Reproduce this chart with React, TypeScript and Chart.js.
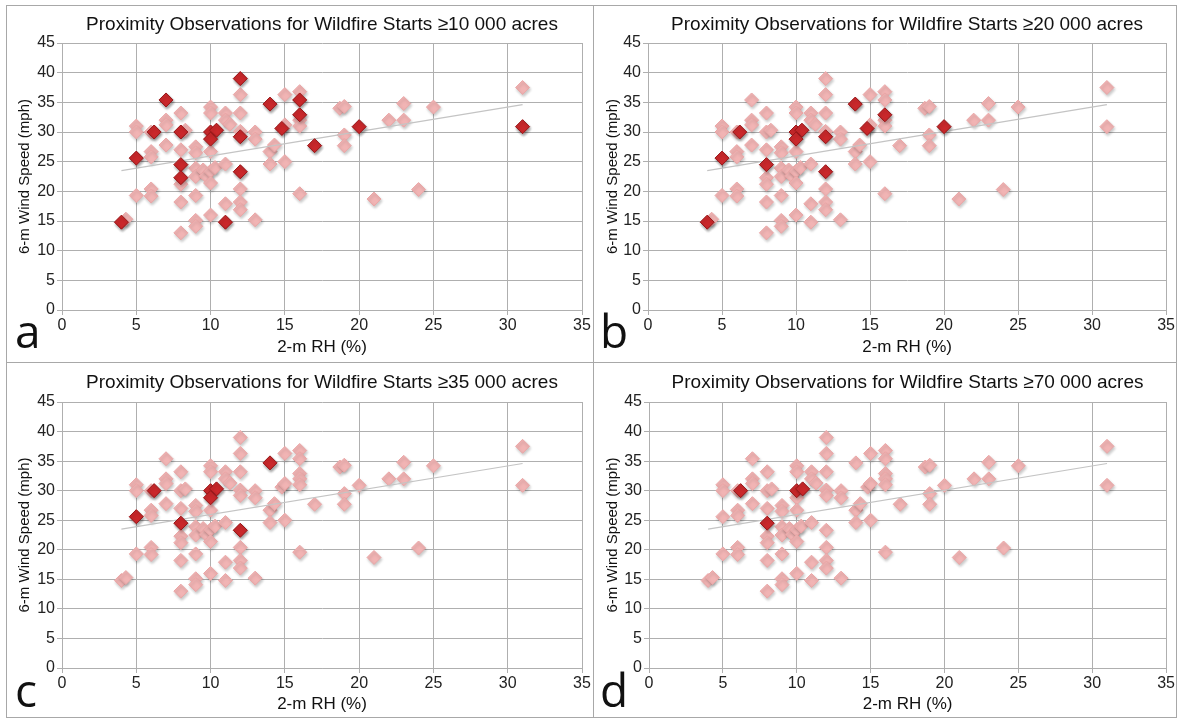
import React, { useEffect, useRef } from "react";
import { Chart, registerables } from "chart.js";

Chart.register(...registerables);

// All proximity observations: 2-m RH (%) and 6-m wind speed (mph)
const ALL_RH = [
  4, 4.3, 5, 5, 5, 5, 6, 6.2, 6, 6, 6, 6, 7, 7, 7, 7, 8, 8, 8.3, 8, 8, 8, 8, 8, 8,
  9, 9, 9, 9, 9, 9, 9, 9.5, 9.7, 10, 10, 10, 10.4, 10, 10, 10, 10.3, 10, 10,
  11, 11, 11.3, 11, 11, 11, 12, 12, 12, 12, 12, 12, 12, 12, 12, 13, 13, 13,
  14, 14, 14.3, 14, 15, 14.8, 15, 15, 16, 16, 16, 16, 16, 16, 17, 18.7, 19, 19, 19,
  20, 21, 22, 23, 23, 24, 25, 31, 31,
];
const ALL_WIND = [
  14.8, 15.3, 31, 30, 25.6, 19.3, 30, 30, 26.7, 25.8, 20.4, 19.2, 35.4, 32, 31.2, 27.8, 33.2, 30, 30.3, 27, 24.5, 22.3, 21.2, 18.2, 13,
  27.5, 26.5, 23.9, 22.5, 19.3, 15.1, 14.1, 23.6, 22.6, 34.2, 33.2, 30, 30.3, 28.8, 26.7, 23.4, 24, 21.4, 16,
  33.2, 32, 31.3, 24.6, 17.9, 14.8, 39, 36.3, 33.2, 30.1, 29.2, 23.3, 20.4, 18.2, 16.9, 30, 28.8, 15.2,
  34.7, 26.7, 27.8, 24.6, 36.3, 30.6, 31.2, 25, 36.8, 35.4, 32.9, 32, 31, 19.6, 27.7, 34, 34.3, 29.5, 27.7,
  30.9, 18.7, 32, 34.8, 32, 20.3, 34.2, 37.5, 30.9,
];

// Highlighted starts per size threshold
const HI_A_RH = [4, 5, 6.2, 7, 8, 8, 8, 10, 10.4, 10, 11, 12, 12, 12, 14, 14.8, 16, 16, 17, 20, 31];
const HI_A_WIND = [14.8, 25.6, 30, 35.4, 30, 24.5, 22.3, 30, 30.3, 28.8, 14.8, 39, 29.2, 23.3, 34.7, 30.6, 35.4, 32.9, 27.7, 30.9, 30.9];
const HI_B_RH = [4, 5, 6.2, 8, 10, 10.4, 10, 12, 12, 14, 14.8, 16, 20];
const HI_B_WIND = [14.8, 25.6, 30, 24.5, 30, 30.3, 28.8, 29.2, 23.3, 34.7, 30.6, 32.9, 30.9];
const HI_C_RH = [5, 6.2, 8, 10, 10.4, 10, 12, 14];
const HI_C_WIND = [25.6, 30, 24.5, 30, 30.3, 28.8, 23.3, 34.7];
const HI_D_RH = [6.2, 8, 10, 10.4];
const HI_D_WIND = [30, 24.5, 30, 30.3];

// Linear trend line endpoints
const TREND_RH = [4, 31];
const TREND_WIND = [23.5, 34.6];

const TITLES = [
  "Proximity Observations for Wildfire Starts \u226510 000 acres",
  "Proximity Observations for Wildfire Starts \u226520 000 acres",
  "Proximity Observations for Wildfire Starts \u226535 000 acres",
  "Proximity Observations for Wildfire Starts \u226570 000 acres",
];
const LETTERS = ["a", "b", "c", "d"];
const X_TITLE = "2-m RH (%)";
const Y_TITLE = "6-m Wind Speed (mph)";

const FONT = "'Liberation Sans', Arial, sans-serif";

type PanelCfg = {
  left: number; top: number; width: number; height: number;
  padLeft: number; padRight: number; yW: number; xH: number;
  tTop: number; tBot: number; xtBot: number;
  letterX: number; letterY: number;
  hiRH: number[]; hiWind: number[];
  title: string; letter: string;
};

const toPts = (xs: number[], ys: number[]) => xs.map((x, i) => ({ x, y: ys[i] }));

const shadowPlugin = {
  id: "markShadow",
  beforeDatasetDraw(chart: any, args: any) {
    const ds = chart.data.datasets[args.index];
    if (ds.type === "line") return;
    const ctx = chart.ctx;
    ctx.save();
    ctx.shadowColor = "rgba(0,0,0,0.22)";
    ctx.shadowBlur = 3;
    ctx.shadowOffsetX = 1;
    ctx.shadowOffsetY = 2;
  },
  afterDatasetDraw(chart: any, args: any) {
    const ds = chart.data.datasets[args.index];
    if (ds.type === "line") return;
    chart.ctx.restore();
  },
};

function Panel({ cfg }: { cfg: PanelCfg }) {
  const ref = useRef<HTMLCanvasElement | null>(null);
  useEffect(() => {
    if (!ref.current) return;
    const letterPlugin = {
      id: "panelLetter",
      afterDraw(chart: any) {
        const ctx = chart.ctx;
        ctx.save();
        ctx.font = "46px 'Open Sans', sans-serif";
        ctx.fillStyle = "#111";
        ctx.textBaseline = "alphabetic";
        ctx.textAlign = "left";
        ctx.fillText(cfg.letter, cfg.letterX, cfg.letterY);
        ctx.restore();
      },
    };
    const gridColor = "#afafaf";
    const chart = new Chart(ref.current, {
      type: "scatter",
      data: {
        datasets: [
          {
            type: "scatter",
            data: toPts(ALL_RH, ALL_WIND),
            pointStyle: "rectRot",
            pointRadius: 7,
            backgroundColor: "#f1b4b4",
            borderColor: "#eaa6a6",
            borderWidth: 1,
            order: 3,
          },
          {
            type: "line",
            data: toPts(TREND_RH, TREND_WIND),
            borderColor: "#c4c4c4",
            borderWidth: 1.2,
            pointRadius: 0,
            showLine: true,
            fill: false,
            order: 2,
          },
          {
            type: "scatter",
            data: toPts(cfg.hiRH, cfg.hiWind),
            pointStyle: "rectRot",
            pointRadius: 7,
            backgroundColor: "#c9282b",
            borderColor: "#961719",
            borderWidth: 1,
            order: 1,
          },
        ] as any,
      },
      options: {
        animation: false,
        responsive: false,
        maintainAspectRatio: false,
        layout: { padding: { left: cfg.padLeft, right: cfg.padRight, top: 0, bottom: 0 } },
        plugins: {
          legend: { display: false },
          tooltip: { enabled: false },
          title: {
            display: true,
            text: cfg.title,
            fullSize: false,
            color: "#111",
            font: { family: FONT, size: 19, weight: "normal" },
            padding: { top: cfg.tTop, bottom: cfg.tBot },
          },
        },
        scales: {
          x: {
            type: "linear",
            min: 0,
            max: 35,
            ticks: { stepSize: 5, color: "#222", padding: 1, font: { family: FONT, size: 16 } },
            grid: { color: gridColor, lineWidth: 1, tickLength: 5, drawTicks: true },
            border: { color: gridColor },
            title: {
              display: true,
              text: X_TITLE,
              color: "#111",
              font: { family: FONT, size: 17 },
              padding: { top: 0, bottom: cfg.xtBot },
            },
            afterFit(scale: any) { scale.height = cfg.xH; },
          },
          y: {
            type: "linear",
            min: 0,
            max: 45,
            ticks: { stepSize: 5, color: "#222", padding: 2, font: { family: FONT, size: 16 } },
            grid: { color: gridColor, lineWidth: 1, tickLength: 5 },
            border: { color: gridColor },
            title: {
              display: true,
              text: Y_TITLE,
              color: "#111",
              font: { family: FONT, size: 15 },
              padding: { top: 0, bottom: 0 },
            },
            afterFit(scale: any) { scale.width = cfg.yW; },
          },
        },
      } as any,
      plugins: [shadowPlugin, letterPlugin],
    });
    return () => chart.destroy();
  }, [cfg]);
  return (
    <canvas
      ref={ref}
      width={cfg.width}
      height={cfg.height}
      style={{ position: "absolute", left: cfg.left, top: cfg.top, width: cfg.width, height: cfg.height }}
    />
  );
}

const PANELS: PanelCfg[] = [
  { left: 7, top: 6, width: 586, height: 356, padLeft: 9, padRight: 11, yW: 46, xH: 52, tTop: 7.6, tBot: 6.6, xtBot: 4.8, letterX: 8, letterY: 342, hiRH: HI_A_RH, hiWind: HI_A_WIND, title: TITLES[0], letter: LETTERS[0] },
  { left: 594, top: 6, width: 582, height: 356, padLeft: 10, padRight: 7, yW: 44, xH: 52, tTop: 7.6, tBot: 6.6, xtBot: 4.8, letterX: 6, letterY: 342, hiRH: HI_B_RH, hiWind: HI_B_WIND, title: TITLES[1], letter: LETTERS[1] },
  { left: 7, top: 363, width: 586, height: 354, padLeft: 9, padRight: 11, yW: 46, xH: 49, tTop: 8.6, tBot: 7.6, xtBot: 2.8, letterX: 8, letterY: 344, hiRH: HI_C_RH, hiWind: HI_C_WIND, title: TITLES[2], letter: LETTERS[2] },
  { left: 594, top: 363, width: 582, height: 354, padLeft: 10, padRight: 7, yW: 45, xH: 49, tTop: 8.6, tBot: 7.6, xtBot: 2.8, letterX: 6, letterY: 344, hiRH: HI_D_RH, hiWind: HI_D_WIND, title: TITLES[3], letter: LETTERS[3] },
];

export default function App() {
  const line = "#a8a8a8";
  return (
    <div style={{ position: "fixed", left: 0, top: 0, width: 1180, height: 719, background: "#fff", overflow: "hidden" }}>
      {PANELS.map((p, i) => (
        <Panel key={i} cfg={p} />
      ))}
      <div style={{ position: "absolute", left: 6, top: 5, width: 1171, height: 1, background: line }} />
      <div style={{ position: "absolute", left: 6, top: 362, width: 1171, height: 1, background: line }} />
      <div style={{ position: "absolute", left: 6, top: 717, width: 1171, height: 1, background: line }} />
      <div style={{ position: "absolute", left: 6, top: 5, width: 1, height: 713, background: line }} />
      <div style={{ position: "absolute", left: 593, top: 5, width: 1, height: 713, background: line }} />
      <div style={{ position: "absolute", left: 1176, top: 5, width: 1, height: 713, background: line }} />
    </div>
  );
}
